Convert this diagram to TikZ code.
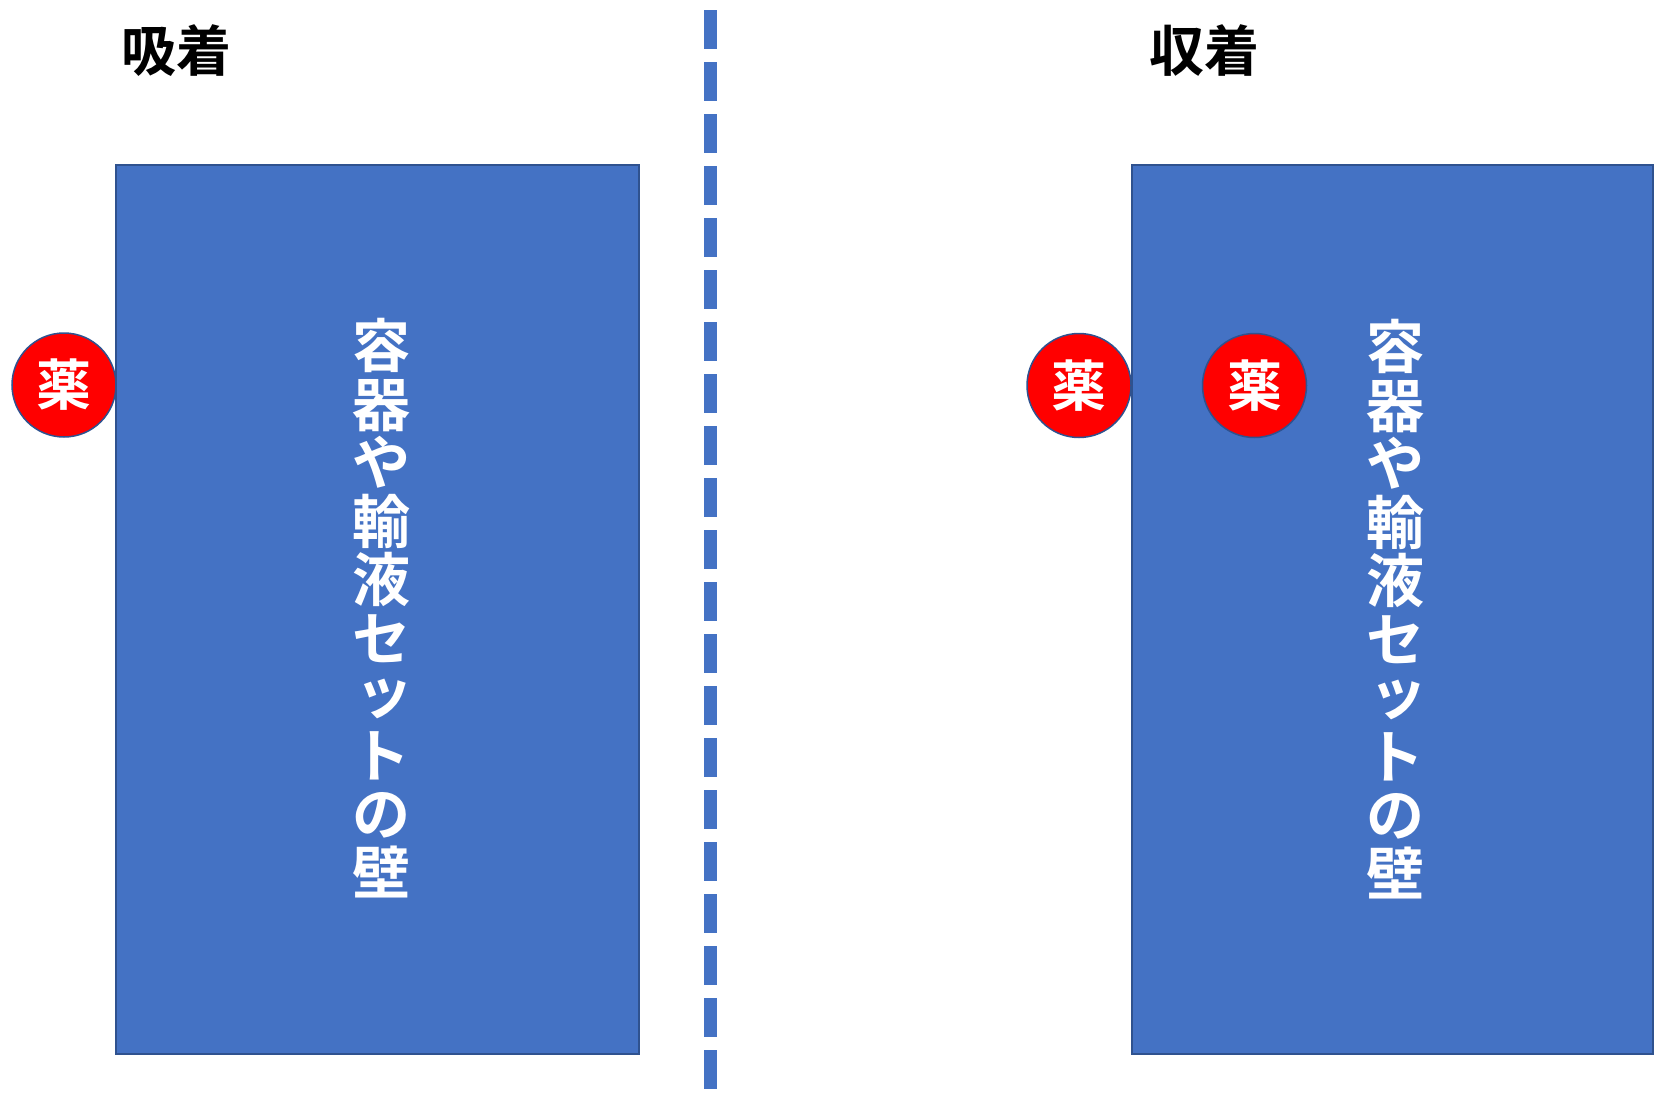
\documentclass[tikz,border=0pt]{standalone}
\usepackage{fontspec}
\newfontfamily\cjk{Noto Sans CJK JP Bold}
\definecolor{wallblue}{HTML}{4472C4}
\definecolor{edgeblue}{HTML}{2F528F}
\tikzset{
  wall/.style={fill=wallblue, draw=edgeblue, line width=2pt},
  drug/.style={circle, fill=red, draw=edgeblue, line width=1.5pt, minimum size=104pt, inner sep=0pt, text=white, font=\cjk\fontsize{55pt}{55pt}\selectfont},
  title/.style={inner sep=0pt, font=\cjk\fontsize{55pt}{55pt}\selectfont},
  walltext/.style={inner sep=0pt, anchor=north, align=center, text=white, font=\cjk\fontsize{58pt}{58.5pt}\selectfont},
  divider/.style={draw=wallblue, line width=13pt, dash pattern=on 39pt off 13pt}
}
\newcommand{\walllabel}{容\\器\\や\\輸\\液\\セ\\\raisebox{5pt}{\kern7pt ッ}\\ト\\の\\壁}
\begin{document}
\begin{tikzpicture}[x=1pt,y=-1pt]
\useasboundingbox (0,0) rectangle (1654,1095);
% titles
\node[title] (t1) at (176.5,51) {吸着};
\node[title] (t2) at (1204,51) {収着};
% divider
\coordinate (d1) at (710.5,10);
\coordinate (d2) at (710.5,1090);
\draw[divider] (d1) -- (d2);
% walls
\draw[wall] (116,165) rectangle (639,1054);
\draw[wall] (1132,165) rectangle (1653,1054);
\node[walltext] (w1) at (381,318) {\walllabel};
\node[walltext] (w2) at (1395,319) {\walllabel};
% drugs
\node[drug] (c1) at (64,385) {薬};
\node[drug] (c2) at (1079,385.5) {薬};
\node[drug] (c3) at (1254.5,385.5) {薬};
\end{tikzpicture}
\end{document}
